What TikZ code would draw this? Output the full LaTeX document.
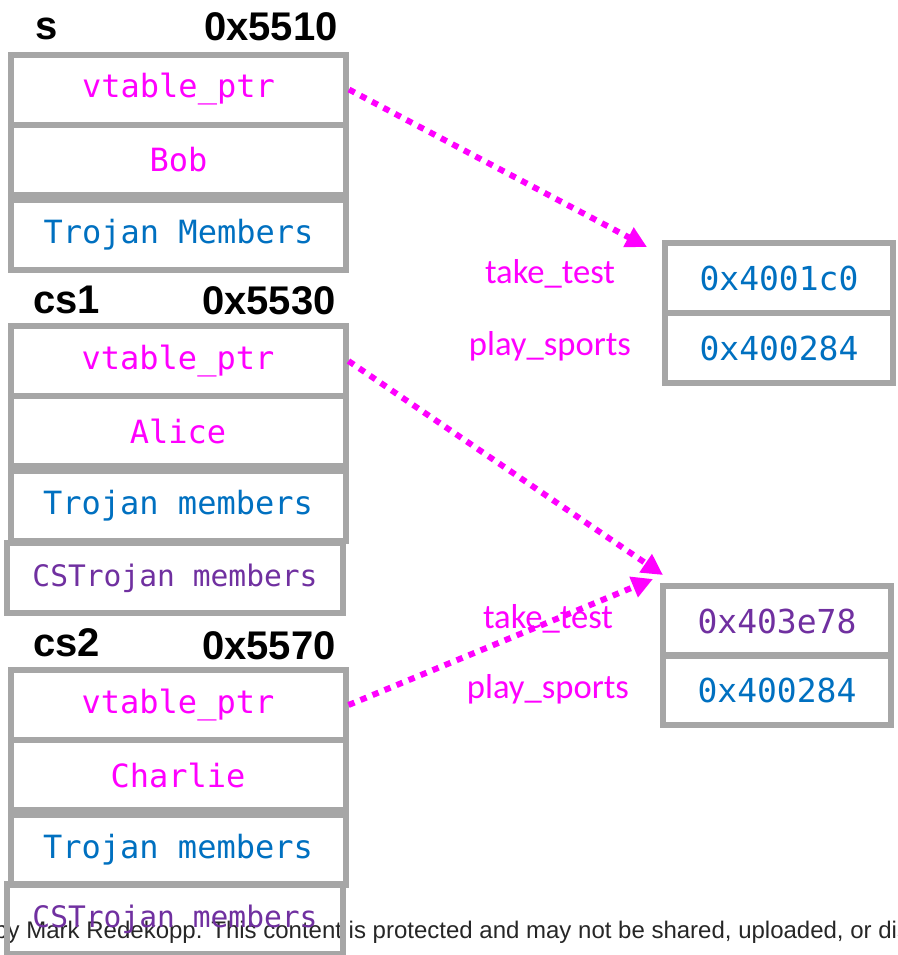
\documentclass[tikz,border=0pt]{standalone}
\usepackage{fontspec}
\usepackage{xcolor}
\usepackage{tikz}
\usetikzlibrary{arrows.meta}

\newfontfamily\cellfont{DejaVu Sans Mono}
\newfontfamily\slotfont{Carlito}
\newfontfamily\headfont{Liberation Sans}

\definecolor{magent}{HTML}{FF00FF}
\definecolor{trojblue}{HTML}{0070C0}
\definecolor{cspurple}{HTML}{7030A0}
\definecolor{boxgray}{HTML}{A6A6A6}

\begin{document}
\begin{tikzpicture}[x=0.5pt,y=-0.5pt,
  cell/.style={draw=boxgray,line width=3pt,minimum width=167.5pt,minimum height=35pt,inner sep=0pt,font=\cellfont\fontsize{16}{18}\selectfont},
  cscell/.style={cell,minimum width=168pt,text=cspurple,font=\cellfont\fontsize{14.8}{17}\selectfont},
  vcell/.style={cell,minimum width=114pt,font=\cellfont\fontsize{16.5}{18}\selectfont},
  slot/.style={text=magent,font=\slotfont\fontsize{17.3}{20}\selectfont},
  objname/.style={inner sep=0pt,anchor=base west,font=\headfont\bfseries\fontsize{20}{22}\selectfont},
  objaddr/.style={objname,anchor=base east},
  ptr/.style={magent,line width=3pt,dash pattern=on 3.25pt off 3.25pt,-{Triangle[length=10.5pt,width=10.5pt]}}]

\useasboundingbox (0,0) rectangle (898,955);

% footer line, cut at both sides
\node[inner sep=0pt,anchor=base west,font=\headfont\fontsize{12}{14}\selectfont,text=black!85] (foot) at (-6,938)
  {by Mark Redekopp. This content is protected and may not be shared, uploaded, or dis};

% object s
\node[objname] (sname) at (35,39) {s};
\node[objaddr] (saddr) at (338,40) {0x5510};
\node[cell,text=magent] (s1) at (178.5,89.5) {vtable\_ptr};
\node[cell,text=magent] (s2) at (178.5,160) {Bob};
\node[cell,text=trojblue] (s3) at (178.5,235) {Trojan Members};

% object cs1
\node[objname] (cs1name) at (33,313) {cs1};
\node[objaddr] (cs1addr) at (336,314) {0x5530};
\node[cell,text=magent] (cs1v) at (178,361) {vtable\_ptr};
\node[cell,text=magent] (cs1n) at (178,431) {Alice};
\node[cell,text=trojblue] (cs1t) at (178,506) {Trojan members};
\node[cscell] (cs1c) at (175,578) {CSTrojan members};

% object cs2
\node[objname] (cs2name) at (33,656) {cs2};
\node[objaddr] (cs2addr) at (336,659) {0x5570};
\node[cell,text=magent] (cs2v) at (178,705) {vtable\_ptr};
\node[cell,text=magent] (cs2n) at (178,775) {Charlie};
\node[cell,text=trojblue] (cs2t) at (178,850) {Trojan members};
\node[cscell] (cs2c) at (175,919) {CSTrojan members};

% Trojan vtable
\node[slot] (tt1) at (550,274) {take\_test};
\node[slot] (ps1) at (550,346) {play\_sports};
\node[vcell,text=trojblue] (vt1a) at (779,278) {0x4001c0};
\node[vcell,text=trojblue] (vt1b) at (779,348) {0x400284};

% CSTrojan vtable
\node[slot] (tt2) at (548,619) {take\_test};
\node[slot] (ps2) at (548,689) {play\_sports};
\node[vcell,text=cspurple] (vt2a) at (777,621) {0x403e78};
\node[vcell,text=trojblue] (vt2b) at (777,690) {0x400284};

\coordinate (tip1) at (647,247);
\coordinate (tip2) at (663,575);
\coordinate (tip3) at (653,579);

\draw[ptr] (s1.east) -- (tip1);
\draw[ptr] (cs1v.east) -- (tip2);
\draw[ptr] (cs2v.east) -- (tip3);

\end{tikzpicture}
\end{document}
